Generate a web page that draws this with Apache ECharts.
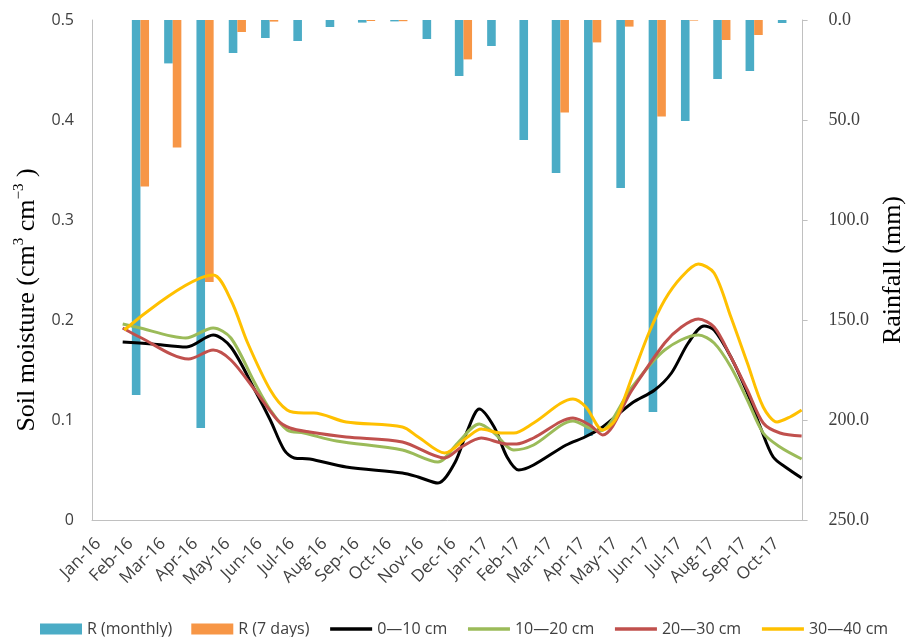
<!DOCTYPE html>
<html>
<head>
<meta charset="utf-8">
<script src="https://cdn.jsdelivr.net/npm/echarts@6/dist/echarts.min.js"></script>
<style>html,body{margin:0;padding:0;background:#fff}#c{width:914px;height:637px}</style>
</head>
<body>
<div id="c"></div>
<script>
const months = ['Jan-16','Feb-16','Mar-16','Apr-16','May-16','Jun-16','Jul-16','Aug-16','Sep-16','Oct-16','Nov-16','Dec-16',
  'Jan-17','Feb-17','Mar-17','Apr-17','May-17','Jun-17','Jul-17','Aug-17','Sep-17','Oct-17'];
const rainMonthly = [0, 187.5, 21.7, 204, 16.5, 9, 10.5, 3.5, 1.3, 0.7, 9.5, 28, 13, 60, 76.5, 208, 84, 196, 50.5, 29.5, 25.5, 1.5];
const rain7days = [0, 83.3, 63.8, 131, 6, 0.8, 0, 0, 0.5, 0.6, 0, 19.7, 0, 0, 46.3, 11.2, 3.3, 48.3, 0.3, 10, 7.5, 0];
const leftTicks = [0, 0.1, 0.2, 0.3, 0.4, 0.5];
const rightTicks = [0, 50, 100, 150, 200, 250];
// [month position, soil moisture]
const sm0_10 = [[0.95,0.178],[1.86,0.176],[2.93,0.173],[3.75,0.185],[4.30,0.173],[5.04,0.130],[5.52,0.100],[5.95,0.070],[6.26,0.062],[6.74,0.061],[7.87,0.053],[9.61,0.047],[10.10,0.043],[10.71,0.037],[11.23,0.057],[11.63,0.090],[11.99,0.111],[12.45,0.093],[12.85,0.063],[13.21,0.050],[13.67,0.055],[14.68,0.075],[15.26,0.083],[15.81,0.093],[16.72,0.117],[17.42,0.130],[17.94,0.147],[18.46,0.177],[18.95,0.194],[19.26,0.190],[19.78,0.163],[20.29,0.127],[20.69,0.093],[21.09,0.063],[21.51,0.052],[21.97,0.042]];
const sm10_20 = [[0.95,0.196],[1.37,0.193],[2.90,0.182],[3.75,0.192],[4.30,0.182],[5.04,0.137],[5.52,0.110],[6.04,0.090],[6.56,0.087],[7.57,0.079],[9.61,0.070],[10.71,0.058],[11.32,0.077],[11.99,0.096],[12.45,0.087],[13.06,0.070],[13.67,0.075],[14.89,0.099],[15.41,0.092],[15.72,0.089],[16.72,0.133],[17.73,0.170],[18.77,0.185],[19.26,0.177],[19.78,0.153],[20.29,0.120],[20.78,0.087],[21.30,0.073],[21.97,0.061]];
const sm20_30 = [[0.95,0.192],[1.47,0.183],[2.99,0.161],[3.75,0.170],[4.30,0.160],[5.04,0.130],[5.74,0.100],[6.13,0.092],[6.74,0.088],[7.87,0.083],[9.61,0.078],[10.92,0.062],[11.44,0.073],[12.05,0.082],[12.85,0.076],[13.15,0.076],[13.67,0.082],[14.89,0.102],[15.41,0.095],[15.81,0.085],[16.72,0.130],[17.73,0.177],[18.25,0.193],[18.77,0.201],[19.26,0.193],[19.78,0.163],[20.29,0.130],[20.78,0.097],[21.30,0.087],[21.97,0.084]];
const sm30_40 = [[1.0,0.190],[3.75,0.245],[4.30,0.220],[4.82,0.177],[5.52,0.130],[6.04,0.110],[6.56,0.107],[6.87,0.107],[7.87,0.098],[9.61,0.093],[10.10,0.083],[10.92,0.067],[11.63,0.083],[12.05,0.091],[12.66,0.087],[13.06,0.087],[13.67,0.097],[14.89,0.121],[15.29,0.113],[15.81,0.090],[16.20,0.100],[16.72,0.143],[17.24,0.187],[17.73,0.220],[18.25,0.243],[18.77,0.256],[19.26,0.247],[19.78,0.203],[20.29,0.157],[20.78,0.113],[21.21,0.098],[21.61,0.103],[21.97,0.110]];

const SANS = '"Open Sans", "Noto Sans", sans-serif';
const SERIF = '"Liberation Serif", "DejaVu Serif", serif';
const AX = '#c0c0c0';
const TXT = '#404040';

const chart = echarts.init(document.getElementById('c'), null, {renderer: 'canvas'});
function lineSeries(name, data, color) {
  return {name, type: 'line', xAxisIndex: 1, yAxisIndex: 0, data, smooth: 0.3,
    symbol: 'none', lineStyle: {color, width: 3}, itemStyle: {color}, z: 5};
}
function lineLegend(name) {
  return {name, itemStyle: {opacity: 0}, lineStyle: {width: 3.5}};
}
chart.setOption({
  animation: false,
  backgroundColor: '#fff',
  grid: {left: 92, right: 101, top: 20, bottom: 117, containLabel: false},
  legend: {
    left: 35, top: 616, itemWidth: 42, itemHeight: 11, itemGap: 19,
    textStyle: {fontFamily: SANS, fontSize: 16, color: TXT},
    data: [
      {name: 'R (monthly)', icon: 'rect'},
      {name: 'R (7 days)', icon: 'rect'},
      lineLegend('0\u201410 cm'), lineLegend('10\u201420 cm'), lineLegend('20\u201430 cm'), lineLegend('30\u201440 cm')
    ]
  },
  xAxis: [
    {type: 'category', data: months, boundaryGap: true,
      axisLine: {show: true, lineStyle: {color: AX, width: 1}},
      axisTick: {show: false},
      axisLabel: {interval: 0, rotate: 45, margin: 11, padding: [0, 14, 0, 0],
        fontFamily: SANS, fontSize: 17, color: TXT},
      splitLine: {show: false}},
    {type: 'value', min: 0, max: 22, show: false}
  ],
  yAxis: [
    {type: 'value', min: leftTicks[0], max: leftTicks[leftTicks.length - 1], interval: 0.1,
      position: 'left',
      axisLine: {show: true, lineStyle: {color: AX, width: 1}},
      axisTick: {show: false},
      splitLine: {show: false},
      axisLabel: {margin: 18, fontFamily: SANS, fontSize: 16, color: TXT},
      name: '{a|Soil moisture (cm}{s|3}{a| cm}{s|\u22123}{a| )}',
      nameLocation: 'middle', nameRotate: 90, nameGap: 50,
      nameTextStyle: {padding: [0, 60, 0, 0],
        rich: {a: {fontFamily: SERIF, fontSize: 26, color: '#000', lineHeight: 30},
               s: {fontFamily: SERIF, fontSize: 15, color: '#000', verticalAlign: 'top', lineHeight: 30}}}},
    {type: 'value', inverse: true, min: rightTicks[0], max: rightTicks[rightTicks.length - 1], interval: 50,
      position: 'right',
      axisLine: {show: true, lineStyle: {color: AX, width: 1}},
      axisTick: {show: true, inside: false, length: 5, lineStyle: {color: AX}},
      splitLine: {show: false},
      axisLabel: {margin: 26, fontFamily: SERIF, fontSize: 18, color: TXT,
        formatter: v => v.toFixed(1)},
      name: 'Rainfall (mm)', nameLocation: 'middle', nameRotate: 90, nameGap: 76,
      nameTextStyle: {fontFamily: SERIF, fontSize: 26, color: '#000'}}
  ],
  series: [
    {name: 'R (monthly)', type: 'bar', xAxisIndex: 0, yAxisIndex: 1, data: rainMonthly,
      barWidth: 8.6, barGap: '0%', itemStyle: {color: '#4bacc6'}, z: 2},
    {name: 'R (7 days)', type: 'bar', xAxisIndex: 0, yAxisIndex: 1, data: rain7days,
      barWidth: 8.6, barGap: '0%', itemStyle: {color: '#f79646'}, z: 2},
    lineSeries('0\u201410 cm', sm0_10, '#000000'),
    lineSeries('10\u201420 cm', sm10_20, '#9bbb59'),
    lineSeries('20\u201430 cm', sm20_30, '#c0504d'),
    lineSeries('30\u201440 cm', sm30_40, '#ffc000')
  ]
});
</script>
</body>
</html>
